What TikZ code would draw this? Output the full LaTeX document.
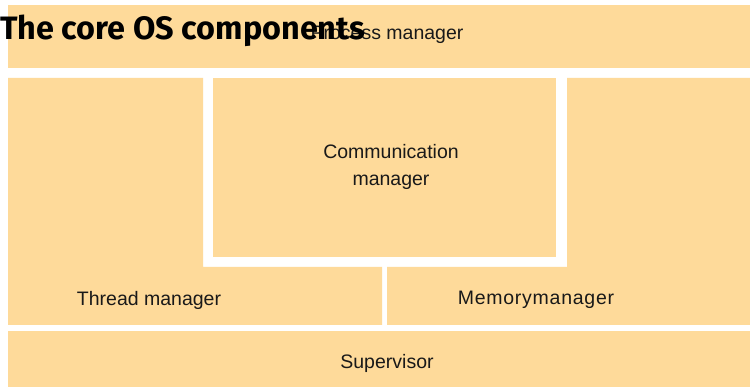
\documentclass[tikz,border=0pt]{standalone}
\usepackage{fontspec}
\setmainfont{Liberation Sans}
\newfontfamily\titlefont{Fira Sans}
\definecolor{cPart}{HTML}{FEDA9A}

\begin{document}
\begin{tikzpicture}[
  x=1pt,y=-1pt,font=\fontsize{19.5}{23}\selectfont,
  part/.style={fill=cPart},
  lbl/.style={inner sep=0pt,align=center,text=black!90},
  ttl/.style={inner sep=0pt,anchor=west,font=\titlefont\bfseries\fontsize{32.4}{36}\selectfont}
]
\useasboundingbox[fill=white] (0,0) rectangle (750,387);

%======================= TOP : PROCESS MANAGER =======================
\fill[part] (8,5) rectangle (750,68);
\node[lbl] (pm) at (387,35) {Process manager};

%======================= MIDDLE =======================
% thread manager (L-shape)
\fill[part] (8,78) -- (203,78) -- (203,267) -- (382,267) -- (382,325) -- (8,325) -- cycle;
\node[lbl] (tm) at (149,300) {Thread manager};

% communication manager
\fill[part] (213,78) rectangle (556,257);
\node[lbl] (cm) at (391,167) {Communication\\[4pt]manager};

% memory manager (L-shape)
\fill[part] (567,78) -- (750,78) -- (750,325) -- (387,325) -- (387,267) -- (567,267) -- cycle;
\node[lbl] (mm) at (536,300) {\addfontfeature{LetterSpace=3.8}Memorymanager};

%======================= BOTTOM : SUPERVISOR =======================
\fill[part] (8,331) rectangle (750,387);
\node[lbl] (sv) at (387,363) {Supervisor};

%======================= TITLE =======================
\node[ttl] (title) at (0,31) {The core OS components};

\end{tikzpicture}
\end{document}
